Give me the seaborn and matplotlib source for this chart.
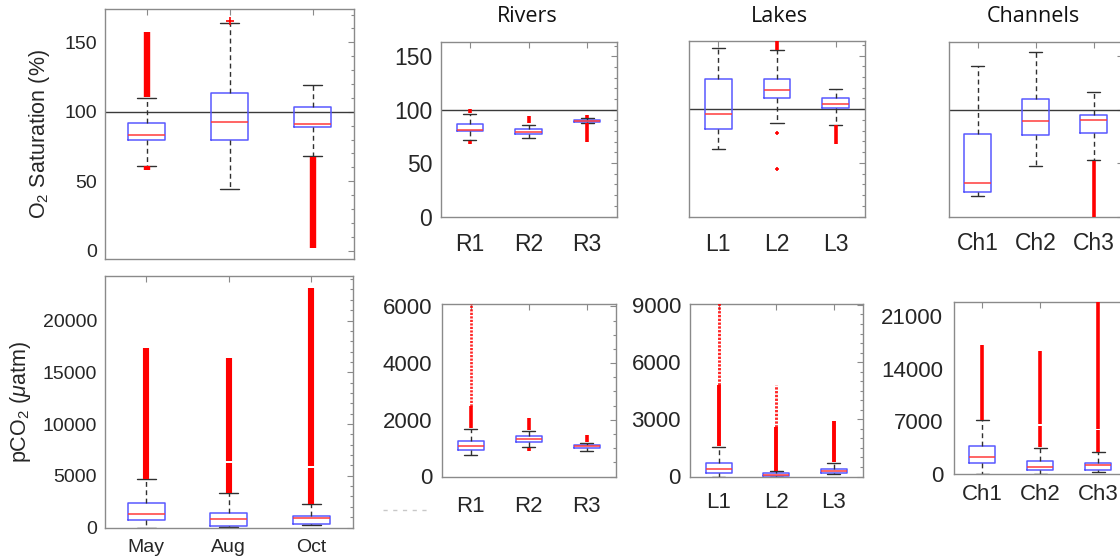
import numpy as np
import pandas as pd
import matplotlib
matplotlib.use("Agg")
import matplotlib.pyplot as plt
import seaborn as sns
from matplotlib.ticker import MultipleLocator
from matplotlib.lines import Line2D

# ---------------- data ----------------
seasons = ["May", "Aug", "Oct"]
rivers = ["R1", "R2", "R3"]
lakes = ["L1", "L2", "L3"]
channels = ["Ch1", "Ch2", "Ch3"]

# box statistics per group: [whisker low, q1, median, q3, whisker high]
o2_season = [[61.3, 79.7, 83.0, 91.7, 110.0],
             [44.3, 79.7, 92.9, 113.3, 164.0],
             [68.0, 88.9, 91.4, 103.2, 119.3]]
o2_rivers = [[71.7, 80.4, 81.3, 86.6, 95.7],
             [73.8, 77.6, 79.4, 81.6, 86.0],
             [87.5, 88.6, 89.4, 90.2, 92.0]]
o2_lakes = [[62.8, 81.3, 95.7, 128.0, 157.0],
            [87.2, 110.0, 117.6, 128.2, 154.8],
            [85.4, 100.7, 105.1, 110.4, 118.8]]
o2_channels = [[19.4, 22.9, 31.0, 77.6, 140.7],
               [47.3, 76.3, 89.5, 110.4, 154.2],
               [52.9, 78.5, 90.0, 95.4, 116.7]]

pco2_season = [[0, 706, 1257, 2321, 4671],
               [30, 126, 774, 1383, 3288],
               [200, 319, 870, 1093, 2253]]
pco2_rivers = [[741, 942, 1059, 1235, 1673],
               [1024, 1214, 1331, 1412, 1613],
               [882, 1020, 1060, 1100, 1178]]
pco2_lakes = [[0, 209, 384, 733, 1555],
              [0, 40, 100, 175, 283],
              [140, 193, 283, 403, 733]]
pco2_channels = [[0, 1338, 2222, 3694, 7134],
                 [0, 442, 803, 1646, 3426],
                 [200, 482, 1070, 1419, 2810]]

# outlier runs per group: (from, to, density)
o2_season_out = [[(110.5, 157.5, "d"), (58.0, 61.0, "d")], [], [(2.0, 67.5, "d")]]
o2_rivers_out = [[(97.0, 101.0, "d"), (68.0, 71.0, "d")], [(88.0, 94.5, "d")],
                 [(92.0, 95.5, "d"), (70.0, 87.5, "d")]]
o2_lakes_out = [[], [(155.5, 166.0, "d")], [(67.2, 85.0, "d")]]
o2_channels_out = [[], [], [(0.0, 52.0, "d")]]
pco2_season_out = [[(4700, 17300, "d")], [(3300, 6200, "d"), (6450, 16400, "d")],
                   [(2300, 5750, "d"), (5950, 23100, "d")]]
pco2_rivers_out = [[(1700, 2500, "d"), (2500, 6200, "s")], [(1650, 2060, "d"), (900, 1000, "d")],
                   [(1200, 1480, "d"), (850, 880, "d")]]
pco2_lakes_out = [[(1600, 4800, "d"), (4800, 9100, "s")], [(300, 2600, "d"), (2600, 4800, "s")],
                  [(750, 2900, "d")]]
pco2_channels_out = [[(7200, 17200, "d")], [(3500, 6300, "d"), (6600, 16400, "d")],
                     [(2850, 5800, "d"), (6000, 23100, "d")]]

# single outliers per group
o2_season_pts = [[], [165.3], []]
o2_lakes_pts = [[], [78.2, 44.7], []]

o2_ticks = [0, 50, 100, 150]
season_pco2_ticks = [0, 5000, 10000, 15000, 20000]
rivers_pco2_ticks = [0, 2000, 4000, 6000]
lakes_pco2_ticks = [0, 3000, 6000, 9000]
channels_pco2_ticks = [0, 7000, 14000, 21000]

# ---------------- style ----------------
sns.set_theme(style="white")
plt.rcParams["font.family"] = ["Liberation Sans", "DejaVu Sans"]
plt.rcParams["mathtext.fontset"] = "custom"
plt.rcParams["mathtext.rm"] = "Liberation Sans"
plt.rcParams["mathtext.it"] = "Liberation Sans:italic"

TXT = "#262626"
SPINE = "#8a8a8a"
BOXC = "#5858ff"
MEDC = "#ff3b3b"
OUTC = "#ff0000"

W, H = 1120, 560
fig = plt.figure(figsize=(W / 100, H / 100), dpi=100)
fig.patch.set_facecolor("white")


def rect(l, t, r, b):
    return [l / W, 1 - b / H, (r - l) / W, (b - t) / H]


def panel(r, cats, stats, outs, pts, ylim, ticks, minor, fs, xfs, xpad, ypad,
          show_x=True, show_y=True, ref=None, olw=2.8, ms=4):
    ax = fig.add_axes(rect(*r))
    df = pd.DataFrame({"group": np.repeat(cats, 5),
                       "value": np.asarray(stats, dtype=float).ravel()})
    if ref is not None:
        ax.axhline(ref, color="#3a3a3a", lw=1.0, zorder=1)
    sns.boxplot(data=df, x="group", y="value", order=cats, whis=(0, 100),
                width=0.45, fill=False, showfliers=False, color="black",
                linewidth=1.0, ax=ax,
                boxprops={"color": BOXC, "linewidth": 1.1},
                medianprops={"color": MEDC, "linewidth": 1.1},
                whiskerprops={"color": "#303030", "linestyle": (0, (3.5, 2.5)), "linewidth": 1.0},
                capprops={"color": "#303030", "linewidth": 1.0})
    for i, runs in enumerate(outs):
        for a, b, kind in runs:
            if kind == "d":
                ax.vlines(i, a, b, color=OUTC, lw=olw, zorder=4)
            else:
                ax.vlines(i, a, b, color=OUTC, lw=olw * 0.75, zorder=4, alpha=0.85,
                          linestyles=(0, (0.8, 0.5)))
    if pts is not None:
        for i, vals in enumerate(pts):
            for v in vals:
                ax.plot(i, v, marker="+", color=OUTC, ms=ms, mew=1.2, zorder=4)
    ax.set_xlim(-0.5, 2.5)
    ax.set_ylim(*ylim)
    ax.set_yticks(ticks)
    ax.yaxis.set_minor_locator(MultipleLocator(minor))
    ax.set_xlabel("")
    ax.set_ylabel("")
    for s in ax.spines.values():
        s.set_visible(True)
        s.set_color(SPINE)
        s.set_linewidth(1.0)
    ax.tick_params(axis="both", which="both", direction="in", top=True, right=True,
                   color=SPINE, width=0.8)
    ax.tick_params(axis="both", which="major", length=4)
    ax.tick_params(axis="y", which="minor", length=2.5)
    ax.tick_params(axis="y", labelsize=fs, labelcolor=TXT, pad=ypad, labelleft=show_y)
    ax.tick_params(axis="x", labelsize=xfs, labelcolor=TXT, pad=xpad, labelbottom=show_x)
    ax.set_facecolor("white")
    return ax


# left column (all data by season)
ax_tl = panel((105, 9, 354, 259), seasons, o2_season, o2_season_out, o2_season_pts,
              (-6, 174), o2_ticks, 10, 14, 14, 8, 5.8, show_x=False, ref=100, olw=4.6, ms=6)
ax_tl.set_ylabel("O$_2$ Saturation (%)", fontsize=15.5, color=TXT, labelpad=9)

ax_bl = panel((105, 276, 352.5, 527.5), seasons, pco2_season, pco2_season_out, None,
              (0, 24300), season_pco2_ticks, 1000, 14, 14, 8, 5.8, olw=4.4)
ax_bl.set_ylabel("pCO$_2$ ($\\mu$atm)", fontsize=15.5, color=TXT, labelpad=7)

# top row: O2 by water body
panel((440.5, 41.5, 616.5, 216.5), rivers, o2_rivers, o2_rivers_out, None,
      (0, 164), o2_ticks, 10, 16.5, 16.5, 12, 6, ref=100, olw=2.6)
panel((689, 40.5, 865, 216.5), lakes, o2_lakes, o2_lakes_out, o2_lakes_pts,
      (0, 164), o2_ticks, 10, 16.5, 16.5, 12, 6, show_y=False, ref=100, olw=2.6, ms=3)
panel((948.5, 41.5, 1122.5, 216.5), channels, o2_channels, o2_channels_out, None,
      (0, 164), o2_ticks, 10, 16.5, 16.5, 11.5, 6, show_y=False, ref=100, olw=2.6)

# bottom row: pCO2 by water body
panel((442, 303.5, 615.5, 476.5), rivers, pco2_rivers, pco2_rivers_out, None,
      (0, 6100), rivers_pco2_ticks, 500, 16, 16, 14, 7, olw=2.6)
panel((690, 304, 862.5, 476.5), lakes, pco2_lakes, pco2_lakes_out, None,
      (0, 9050), lakes_pco2_ticks, 500, 16, 16, 11.5, 6.5, olw=2.8)
panel((953.5, 301.5, 1127, 473.5), channels, pco2_channels, pco2_channels_out, None,
      (0, 23000), channels_pco2_ticks, 7000 / 6, 16, 16, 7.5, 7.5, olw=2.6)

# column titles
for label, xc in [("Rivers", 527), ("Lakes", 779), ("Channels", 1033)]:
    fig.text(xc / W, 1 - 16 / H, label, ha="center", va="center",
             fontsize=15.5, color="#111111", family=["Open Sans", "DejaVu Sans"])

# faint dashed fragment below the rivers panel
fig.add_artist(Line2D([383 / W, 431 / W], [1 - 510 / H, 1 - 510 / H],
                      transform=fig.transFigure, color="#c8c8c8", lw=1.0,
                      linestyle=(0, (3, 4))))

fig.savefig("out.png", dpi=100, facecolor="white")
